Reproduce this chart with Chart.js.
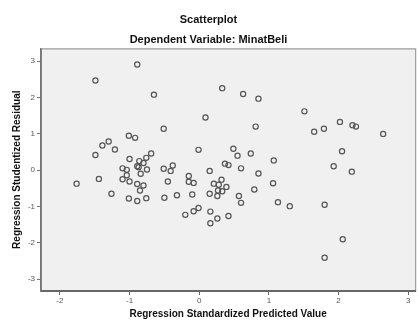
<!DOCTYPE html>
<html>
<head>
<meta charset="utf-8">
<script src="https://cdn.jsdelivr.net/npm/chart.js@4/dist/chart.umd.min.js"></script>
<style>
  html, body { margin: 0; padding: 0; background: #fff; }
  #wrap { width: 419px; height: 320px; }
</style>
</head>
<body>
<div id="wrap"><canvas id="scatterChart"></canvas></div>
<script>
// Regression Standardized Predicted Value (x)
const predicted = [
  -1.49, -0.89, -1.01, -0.92, -1.30, -1.39, -1.21, -1.49, -1.00, -0.69,
  -0.76, -0.86, -0.80, -0.87, -0.89, -0.75, -1.10, -1.04, -0.84, -1.04,
  -1.10, -1.00, -1.44, -0.89, -0.80, -0.85, -1.26, -1.01, -0.89, -0.76,
  -1.76, -0.65, 0.33, 0.63, 0.85, 0.09, -0.51, 0.81, 0.49, 0.55,
  0.74, 1.07, -0.01, -0.51, -0.41, -0.38, -0.45, -0.15, -0.15, -0.08,
  0.15, 0.37, 0.42, 0.32, 0.21, 0.28, 0.39, 0.27, 0.33, 0.26,
  0.15, -0.10, -0.32, -0.50, -0.01, -0.08, -0.20, 0.16, 0.26, 0.16,
  0.42, 0.60, 0.85, 1.06, 0.79, 0.57, 0.60, 1.13, 1.30, 1.51,
  1.65, 1.79, 2.02, 2.20, 2.25, 2.64, 2.05, 1.93, 2.19, 1.80,
  2.06, 1.80
];
// Regression Studentized Residual (y)
const residual = [
  2.47, 2.91, 0.95, 0.89, 0.79, 0.68, 0.57, 0.42, 0.31, 0.46,
  0.34, 0.25, 0.20, 0.08, 0.11, 0.02, 0.05, 0.01, -0.10, -0.14,
  -0.25, -0.31, -0.24, -0.38, -0.42, -0.56, -0.65, -0.78, -0.85, -0.77,
  -0.37, 2.08, 2.26, 2.10, 1.97, 1.45, 1.14, 1.20, 0.59, 0.40,
  0.46, 0.27, 0.56, 0.04, -0.02, 0.13, -0.31, -0.16, -0.32, -0.35,
  -0.02, 0.18, 0.14, -0.26, -0.37, -0.40, -0.46, -0.56, -0.58, -0.71,
  -0.65, -0.67, -0.69, -0.76, -1.04, -1.13, -1.23, -1.14, -1.33, -1.46,
  -1.26, 0.05, -0.09, -0.36, -0.53, -0.71, -0.90, -0.88, -0.99, 1.62,
  1.06, 1.14, 1.33, 1.24, 1.20, 1.00, 0.52, 0.11, -0.04, -0.95,
  -1.90, -2.41
];
const xTicks = [-2, -1, 0, 1, 2, 3];
const yTicks = [-3, -2, -1, 0, 1, 2, 3];

const points = predicted.map((x, i) => ({ x: x, y: residual[i] }));

// grey plot background and frame like the SPSS output
const plotFrame = {
  id: 'plotFrame',
  beforeDraw(chart) {
    const { ctx, chartArea: a } = chart;
    ctx.save();
    ctx.fillStyle = '#f0f0f0';
    ctx.fillRect(a.left, a.top, a.right - a.left, a.bottom - a.top);
    ctx.strokeStyle = '#8a8a8a';
    ctx.lineWidth = 1;
    ctx.strokeRect(a.left + 0.5, a.top + 0.5, a.right - a.left, a.bottom - a.top);
    ctx.restore();
  }
};

const font = 'Arial, "Liberation Sans", sans-serif';

new Chart(document.getElementById('scatterChart').getContext('2d'), {
  type: 'scatter',
  data: {
    datasets: [{
      label: 'Residual',
      data: points,
      backgroundColor: 'rgba(0,0,0,0)',
      borderColor: '#555',
      borderWidth: 1.2,
      pointRadius: 2.6,
      pointHoverRadius: 2.6
    }]
  },
  options: {
    responsive: true,
    maintainAspectRatio: false,
    animation: false,
    layout: { padding: { left: 0, right: 2, top: 0, bottom: 0 } },
    plugins: {
      legend: { display: false },
      tooltip: { enabled: false },
      title: {
        display: true,
        text: 'Scatterplot',
        color: '#111',
        font: { family: font, size: 11, weight: 'bold' },
        padding: { top: 13, bottom: 4 }
      },
      subtitle: {
        display: true,
        text: 'Dependent Variable: MinatBeli',
        color: '#111',
        font: { family: font, size: 11, weight: 'bold' },
        padding: { top: 3, bottom: 2 }
      }
    },
    scales: {
      x: {
        type: 'linear',
        min: -2.271,
        max: 3.1,
        afterBuildTicks: (scale) => { scale.ticks = xTicks.map(v => ({ value: v })); },
        afterFit: (scale) => { scale.height = 29; },
        grid: { drawOnChartArea: false, drawTicks: true, tickLength: 4, color: '#666', tickWidth: 1 },
        border: { display: true, color: '#666', width: 2 },
        ticks: { color: '#555', font: { family: font, size: 8 }, padding: 1, maxRotation: 0 },
        title: {
          display: true,
          text: 'Regression Standardized Predicted Value',
          color: '#111',
          font: { family: font, size: 10, weight: 'bold' },
          padding: { top: 0, bottom: 0 }
        }
      },
      y: {
        type: 'linear',
        min: -3.327,
        max: 3.354,
        afterBuildTicks: (scale) => { scale.ticks = yTicks.map(v => ({ value: v })); },
        afterFit: (scale) => { scale.width = 41; },
        grid: { drawOnChartArea: false, drawTicks: true, tickLength: 4, color: '#777', tickWidth: 1 },
        border: { display: true, color: '#777', width: 1.5 },
        ticks: { color: '#555', font: { family: font, size: 8 }, padding: 2 },
        title: {
          display: true,
          text: 'Regression Studentized Residual',
          color: '#111',
          font: { family: font, size: 10, weight: 'bold' },
          padding: { top: 11, bottom: 0 }
        }
      }
    }
  },
  plugins: [plotFrame]
});
</script>
</body>
</html>
